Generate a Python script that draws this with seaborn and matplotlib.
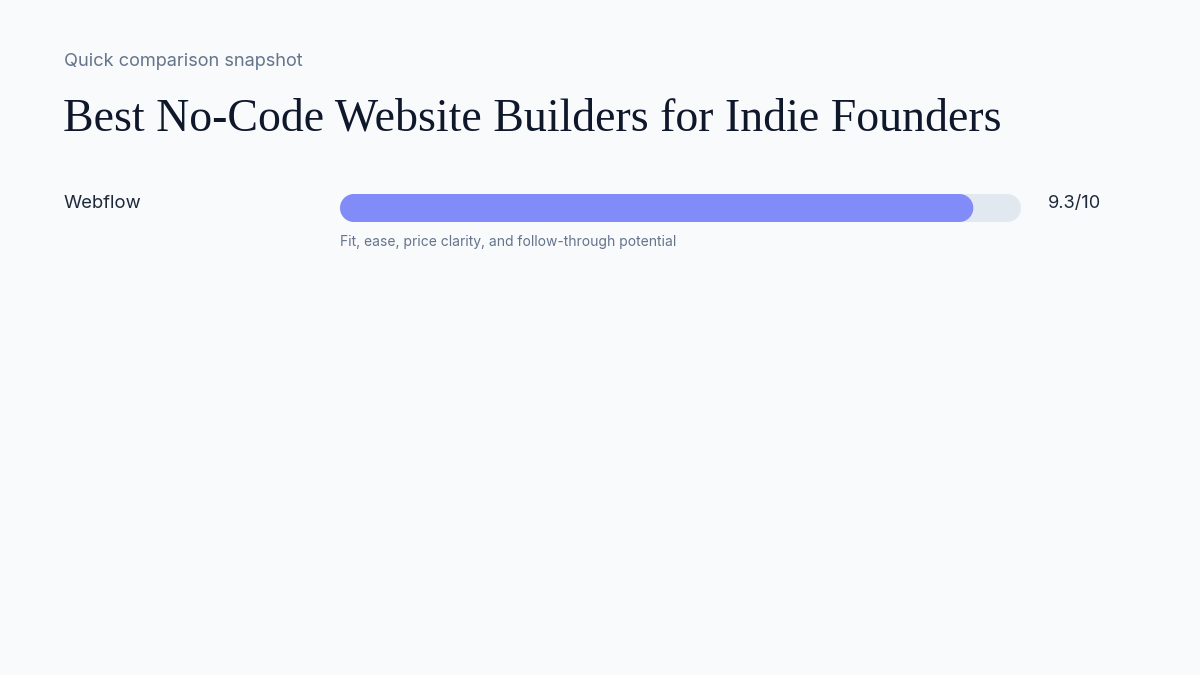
import matplotlib
matplotlib.use("Agg")
import matplotlib.pyplot as plt
from matplotlib.patches import PathPatch
from matplotlib.path import Path
import numpy as np
import seaborn as sns
import pandas as pd

# ---- data ----
tools = ["Webflow"]
scores = [9.3]
max_score = 10
score_labels = ["9.3/10"]
captions = ["Fit, ease, price clarity, and follow-through potential"]
subtitle = "Quick comparison snapshot"
title = "Best No-Code Website Builders for Indie Founders"

BG = "#f8fafc"
FILL = "#818cf8"
TRACK = "#e2e8f0"

sns.set_theme(style="white")
plt.rcParams["font.family"] = ["Inter", "DejaVu Sans"]

W, H = 1200, 675
fig = plt.figure(figsize=(12, 6.75), dpi=100)
fig.patch.set_facecolor(BG)

def fx(px):
    return px / W

def fy(py):
    return 1 - py / H

fig.text(fx(64), fy(61), subtitle, fontsize=13.1, color="#64748b",
         va="center", ha="left")
fig.text(fx(63), fy(119), title, fontsize=33, color="#0f172a",
         va="center", ha="left", family=["Liberation Serif", "DejaVu Serif"])

bar_left, bar_right = 340, 1021
bar_top, bar_h = 194, 28
row_gap = 70

df = pd.DataFrame({"tool": tools, "score": scores,
                   "max": [max_score] * len(tools)})


def pill_path(x0, y0, w, h, rx):
    ry = h / 2
    yc = y0 + h / 2
    rx = min(rx, w / 2)
    right = Path.arc(-90, 90)
    left = Path.arc(90, 270)
    rv = right.vertices * [rx, ry] + [x0 + w - rx, yc]
    lv = left.vertices * [rx, ry] + [x0 + rx, yc]
    rc = right.codes.copy()
    lc = left.codes.copy()
    lc[0] = Path.LINETO
    verts = np.vstack([rv, lv, rv[:1]])
    codes = np.concatenate([rc, lc, [Path.CLOSEPOLY]])
    return Path(verts, codes)


for i, row in df.iterrows():
    top = bar_top + i * row_gap
    ax = fig.add_axes([fx(bar_left), fy(top + bar_h),
                       (bar_right - bar_left) / W, bar_h / H])
    ax.set_facecolor("none")
    sub = df.iloc[[i]]
    sns.barplot(data=sub, x="max", y="tool", color=TRACK, width=1.0,
                ax=ax, saturation=1)
    sns.barplot(data=sub, x="score", y="tool", color=FILL, width=1.0,
                ax=ax, saturation=1)
    ax.set_xlim(0, max_score)
    ax.set_ylim(0.5, -0.5)
    ax.axis("off")
    # round the bars into pills
    px_per_x = (bar_right - bar_left) / max_score
    r_x = (bar_h / 2) / px_per_x
    patches = list(ax.patches)
    for p in patches:
        x0, y0 = p.get_x(), p.get_y()
        w, h = p.get_width(), p.get_height()
        c = p.get_facecolor()
        p.remove()
        ax.add_patch(PathPatch(pill_path(x0, y0, w, h, r_x),
                               facecolor=c, edgecolor="none"))

    fig.text(fx(64), fy(top + 9), row["tool"], fontsize=13.3,
             color="#1e293b", va="center", ha="left")
    fig.text(fx(1048), fy(top + 9), score_labels[i], fontsize=13.1,
             color="#1e293b", va="center", ha="left")
    fig.text(fx(340), fy(top + 48), captions[i], fontsize=10,
             color="#64748b", va="center", ha="left")

fig.savefig("out.png", dpi=100, facecolor=BG)
